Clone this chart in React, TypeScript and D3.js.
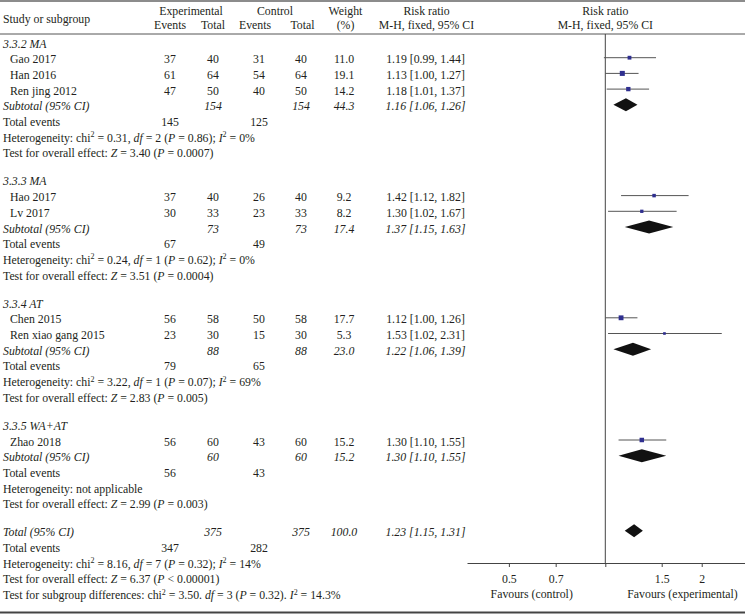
import React, { useEffect, useRef } from "react";
import * as d3 from "d3";

// ---------- data ----------
const studyNames = ["Gao 2017", "Han 2016", "Ren jing 2012", "Hao 2017", "Lv 2017", "Chen 2015", "Ren xiao gang 2015", "Zhao 2018"];
const studyGroup = [0, 0, 0, 1, 1, 2, 2, 3];
const expEvents = [37, 61, 47, 37, 30, 56, 23, 56];
const expTotal = [40, 64, 50, 40, 33, 58, 30, 60];
const ctrlEvents = [31, 54, 40, 26, 23, 50, 15, 43];
const ctrlTotal = [40, 64, 50, 40, 33, 58, 30, 60];
const studyWeight = [11.0, 19.1, 14.2, 9.2, 8.2, 17.7, 5.3, 15.2];
const studyRR = [1.19, 1.13, 1.18, 1.42, 1.30, 1.12, 1.53, 1.30];
const studyLo = [0.99, 1.00, 1.01, 1.12, 1.02, 1.00, 1.02, 1.10];
const studyHi = [1.44, 1.27, 1.37, 1.82, 1.67, 1.26, 2.31, 1.55];

const groupLabels = ["3.3.2 MA", "3.3.3 MA", "3.3.4 AT", "3.3.5 WA+AT"];
const groupExpTotal = [154, 73, 88, 60];
const groupCtrlTotal = [154, 73, 88, 60];
const groupWeight = [44.3, 17.4, 23.0, 15.2];
const groupRR = [1.16, 1.37, 1.22, 1.30];
const groupLo = [1.06, 1.15, 1.06, 1.10];
const groupHi = [1.26, 1.63, 1.39, 1.55];
const groupExpEvents = [145, 67, 79, 56];
const groupCtrlEvents = [125, 49, 65, 43];
const groupHet = [
  "Heterogeneity: chi{2} = 0.31, [df] = 2 ([P] = 0.86); [I]{2} = 0%",
  "Heterogeneity: chi{2} = 0.24, [df] = 1 ([P] = 0.62); [I]{2} = 0%",
  "Heterogeneity: chi{2} = 3.22, [df] = 1 ([P] = 0.07); [I]{2} = 69%",
  "Heterogeneity: not applicable",
];
const groupTest = [
  "Test for overall effect: [Z] = 3.40 ([P] = 0.0007)",
  "Test for overall effect: [Z] = 3.51 ([P] = 0.0004)",
  "Test for overall effect: [Z] = 2.83 ([P] = 0.005)",
  "Test for overall effect: [Z] = 2.99 ([P] = 0.003)",
];

const overallExpTotal = 375;
const overallCtrlTotal = 375;
const overallWeight = 100.0;
const overallRR = 1.23;
const overallLo = 1.15;
const overallHi = 1.31;
const overallExpEvents = 347;
const overallCtrlEvents = 282;
const overallHet = "Heterogeneity: chi{2} = 8.16, [df] = 7 ([P] = 0.32); [I]{2} = 14%";
const overallTest = "Test for overall effect: [Z] = 6.37 ([P] < 0.00001)";
const subgroupTest = "Test for subgroup differences: chi{2} = 3.50. [df] = 3 ([P] = 0.32). [I]{2} = 14.3%";

const axisTicks = [0.5, 0.7, 1, 1.5, 2];
const axisTickLabels = ["0.5", "0.7", "", "1.5", "2"];

// ---------- layout ----------
const W = 745;
const H = 614;
const FONT = "'Liberation Serif', 'Times New Roman', serif";
const FS = 11.8;
const TXT = "#231f20";

const COL = { label: 3, study: 10, expEv: 170, expTot: 213, ctlEv: 259, ctlTot: 301, weight: 344, rr: 425.5 };
const STEP = 15.7;
const GAP = 28;
const AXIS_Y = 563;
const TOP_Y = 34;
const H1 = 14.5;
const H2 = 28.5;

const x = d3.scaleLog().domain([0.37, 2.73]).range([467, 745]);

function fmtRR(r: number, lo: number, hi: number) {
  return `${r.toFixed(2)} [${lo.toFixed(2)}, ${hi.toFixed(2)}]`;
}

function RichText({ s, xPos, y }: { s: string; xPos: number; y: number }) {
  const parts = s.split(/(\[[^\]]+\]|\{[^}]+\})/).filter((p) => p.length > 0);
  const out: React.ReactNode[] = [];
  let raised = false;
  parts.forEach((p, i) => {
    if (p.startsWith("{")) {
      out.push(
        <tspan key={i} dy={-4.5} fontSize={8}>
          {p.slice(1, -1)}
        </tspan>
      );
      raised = true;
    } else {
      const italic = p.startsWith("[");
      const t = italic ? p.slice(1, -1) : p;
      out.push(
        <tspan key={i} dy={raised ? 4.5 : 0} fontStyle={italic ? "italic" : "normal"}>
          {t}
        </tspan>
      );
      raised = false;
    }
  });
  return (
    <text x={xPos} y={y} fontFamily={FONT} fontSize={FS} fill={TXT}>
      {out}
    </text>
  );
}

type Row =
  | { kind: "header"; tc: number; g: number }
  | { kind: "study"; tc: number; i: number }
  | { kind: "subtotal"; tc: number; g: number }
  | { kind: "events"; tc: number; e: number; c: number }
  | { kind: "rich"; tc: number; s: string }
  | { kind: "total"; tc: number };

function buildRows(): Row[] {
  const rows: Row[] = [];
  let tc = 44;
  groupLabels.forEach((_, g) => {
    rows.push({ kind: "header", tc, g });
    studyNames.forEach((_, i) => {
      if (studyGroup[i] === g) {
        tc += STEP;
        rows.push({ kind: "study", tc, i });
      }
    });
    tc += STEP;
    rows.push({ kind: "subtotal", tc, g });
    tc += STEP;
    rows.push({ kind: "events", tc, e: groupExpEvents[g], c: groupCtrlEvents[g] });
    tc += STEP;
    rows.push({ kind: "rich", tc, s: groupHet[g] });
    tc += STEP;
    rows.push({ kind: "rich", tc, s: groupTest[g] });
    tc += GAP;
  });
  rows.push({ kind: "total", tc });
  tc += STEP;
  rows.push({ kind: "events", tc, e: overallExpEvents, c: overallCtrlEvents });
  tc += STEP;
  rows.push({ kind: "rich", tc, s: overallHet });
  tc += STEP;
  rows.push({ kind: "rich", tc, s: overallTest });
  tc += STEP;
  rows.push({ kind: "rich", tc, s: subgroupTest });
  return rows;
}

function T({ x: xx, y, children, anchor = "start", italic = false }: any) {
  return (
    <text x={xx} y={y} textAnchor={anchor} fontFamily={FONT} fontSize={FS} fill={TXT} fontStyle={italic ? "italic" : "normal"}>
      {children}
    </text>
  );
}

function Diamond({ r, lo, hi, y }: { r: number; lo: number; hi: number; y: number }) {
  const h = 6.5;
  const pts = [
    [x(lo), y],
    [x(r), y - h],
    [x(hi), y],
    [x(r), y + h],
  ];
  return <polygon points={pts.map((p) => p.join(",")).join(" ")} fill="#111" />;
}

export default function App() {
  const axisRef = useRef<SVGGElement>(null);
  useEffect(() => {
    if (!axisRef.current) return;
    const ax = d3
      .axisBottom(x)
      .tickValues(axisTicks)
      .tickFormat((_d, i) => axisTickLabels[i])
      .tickSizeInner(4)
      .tickSizeOuter(0)
      .tickPadding(7.5);
    const g = d3.select(axisRef.current);
    g.call(ax as any);
    g.select(".domain").attr("stroke", "#444").attr("stroke-width", 1);
    g.selectAll(".tick line").attr("stroke", "#444");
    g.selectAll(".tick text").attr("font-family", FONT).attr("font-size", FS).attr("fill", TXT);
  }, []);

  const rows = buildRows();
  const bl = (tc: number) => tc + 3.5;
  const my = (tc: number) => tc - 2;

  return (
    <svg width={W} height={H} style={{ position: "absolute", left: 0, top: 0, background: "#fff" }}>
      <rect x={0} y={0} width={W} height={H} fill="#fff" />
      {/* frame lines */}
      <line x1={0} x2={W} y1={1} y2={1} stroke="#666" strokeWidth={1.5} />
      <line x1={0} x2={W} y1={TOP_Y} y2={TOP_Y} stroke="#555" strokeWidth={1} />
      <line x1={0} x2={W} y1={612.5} y2={612.5} stroke="#444" strokeWidth={2} />

      {/* headers */}
      <T x={3} y={23}>Study or subgroup</T>
      <T x={191} y={H1} anchor="middle">Experimental</T>
      <T x={COL.expEv} y={H2} anchor="middle">Events</T>
      <T x={COL.expTot} y={H2} anchor="middle">Total</T>
      <T x={275} y={H1} anchor="middle">Control</T>
      <T x={255} y={H2} anchor="middle">Events</T>
      <T x={302.5} y={H2} anchor="middle">Total</T>
      <T x={345.5} y={H1} anchor="middle">Weight</T>
      <T x={345.5} y={H2} anchor="middle">(%)</T>
      <T x={426.5} y={H1} anchor="middle">Risk ratio</T>
      <T x={426.5} y={H2} anchor="middle">M-H, fixed, 95% CI</T>
      <T x={x(1)} y={H1} anchor="middle">Risk ratio</T>
      <T x={x(1)} y={H2} anchor="middle">M-H, fixed, 95% CI</T>

      {/* null line */}
      <line x1={x(1)} x2={x(1)} y1={TOP_Y} y2={AXIS_Y} stroke="#444" strokeWidth={1} />

      {rows.map((r, k) => {
        if (r.kind === "header") {
          return <T key={k} x={COL.label} y={bl(r.tc)} italic>{groupLabels[r.g]}</T>;
        }
        if (r.kind === "study") {
          const i = r.i;
          const yM = my(r.tc);
          const side = 1.15 * Math.sqrt(studyWeight[i]);
          return (
            <g key={k}>
              <T x={COL.study} y={bl(r.tc)}>{studyNames[i]}</T>
              <T x={COL.expEv} y={bl(r.tc)} anchor="middle">{expEvents[i]}</T>
              <T x={COL.expTot} y={bl(r.tc)} anchor="middle">{expTotal[i]}</T>
              <T x={COL.ctlEv} y={bl(r.tc)} anchor="middle">{ctrlEvents[i]}</T>
              <T x={COL.ctlTot} y={bl(r.tc)} anchor="middle">{ctrlTotal[i]}</T>
              <T x={COL.weight} y={bl(r.tc)} anchor="middle">{studyWeight[i].toFixed(1)}</T>
              <T x={COL.rr} y={bl(r.tc)} anchor="middle">{fmtRR(studyRR[i], studyLo[i], studyHi[i])}</T>
              <line x1={x(studyLo[i])} x2={x(studyHi[i])} y1={yM} y2={yM} stroke="#555" strokeWidth={1} />
              <rect x={x(studyRR[i]) - side / 2} y={yM - side / 2} width={side} height={side} fill="#2f2f8f" />
            </g>
          );
        }
        if (r.kind === "subtotal") {
          const g = r.g;
          return (
            <g key={k}>
              <T x={COL.label} y={bl(r.tc)} italic>Subtotal (95% CI)</T>
              <T x={COL.expTot} y={bl(r.tc)} anchor="middle" italic>{groupExpTotal[g]}</T>
              <T x={COL.ctlTot} y={bl(r.tc)} anchor="middle" italic>{groupCtrlTotal[g]}</T>
              <T x={COL.weight} y={bl(r.tc)} anchor="middle" italic>{groupWeight[g].toFixed(1)}</T>
              <T x={COL.rr} y={bl(r.tc)} anchor="middle" italic>{fmtRR(groupRR[g], groupLo[g], groupHi[g])}</T>
              <Diamond r={groupRR[g]} lo={groupLo[g]} hi={groupHi[g]} y={my(r.tc)} />
            </g>
          );
        }
        if (r.kind === "events") {
          return (
            <g key={k}>
              <T x={COL.label} y={bl(r.tc)}>Total events</T>
              <T x={COL.expEv} y={bl(r.tc)} anchor="middle">{r.e}</T>
              <T x={COL.ctlEv} y={bl(r.tc)} anchor="middle">{r.c}</T>
            </g>
          );
        }
        if (r.kind === "rich") {
          return <RichText key={k} s={r.s} xPos={COL.label} y={bl(r.tc)} />;
        }
        return (
          <g key={k}>
            <T x={COL.label} y={bl(r.tc)} italic>Total (95% CI)</T>
            <T x={COL.expTot} y={bl(r.tc)} anchor="middle" italic>{overallExpTotal}</T>
            <T x={COL.ctlTot} y={bl(r.tc)} anchor="middle" italic>{overallCtrlTotal}</T>
            <T x={COL.weight} y={bl(r.tc)} anchor="middle" italic>{overallWeight.toFixed(1)}</T>
            <T x={COL.rr} y={bl(r.tc)} anchor="middle" italic>{fmtRR(overallRR, overallLo, overallHi)}</T>
            <Diamond r={overallRR} lo={overallLo} hi={overallHi} y={my(r.tc)} />
          </g>
        );
      })}

      {/* axis */}
      <g ref={axisRef} transform={`translate(0,${AXIS_Y})`} />
      <T x={531.7} y={598} anchor="middle">Favours (control)</T>
      <T x={682.5} y={598} anchor="middle">Favours (experimental)</T>
    </svg>
  );
}
